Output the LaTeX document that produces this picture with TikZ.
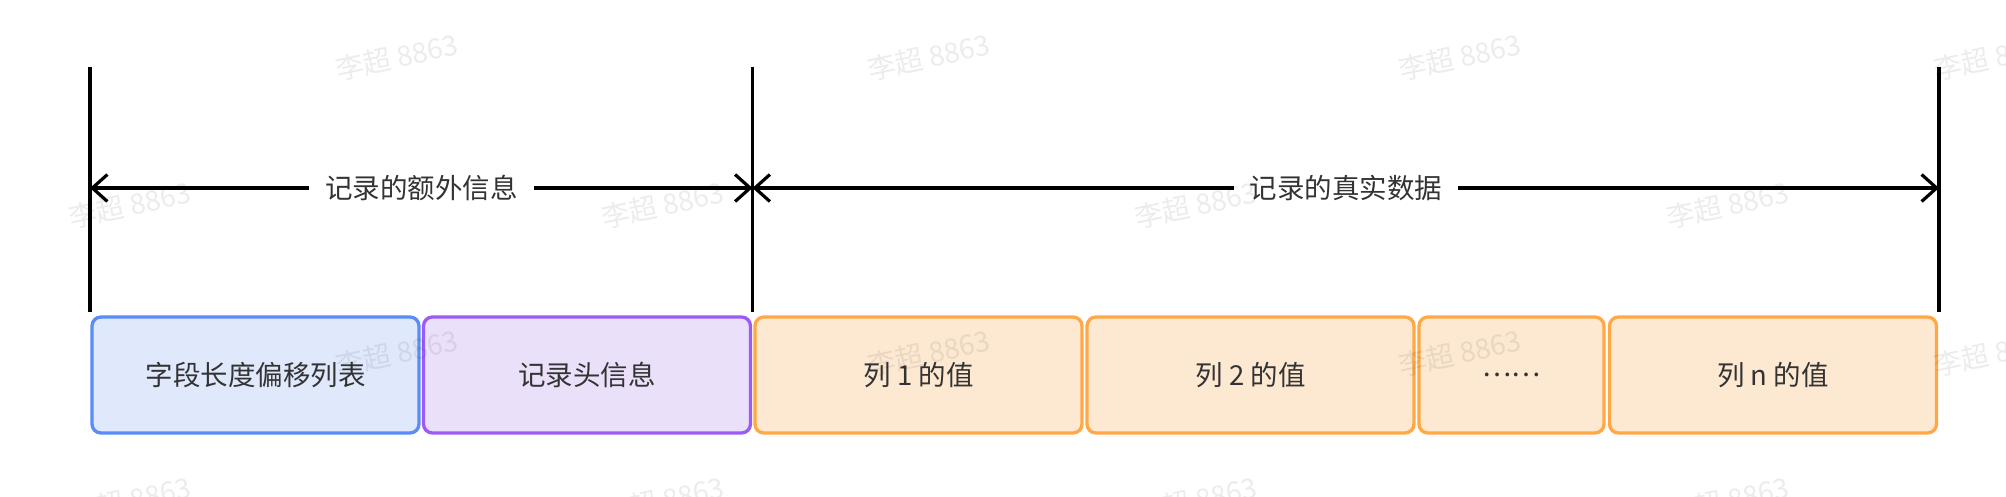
\documentclass[tikz,border=0pt]{standalone}
\usepackage{fontspec}
\setmainfont{Noto Sans CJK SC}
\usetikzlibrary{arrows.meta}
\definecolor{txt}{HTML}{333333}
\definecolor{bluebd}{HTML}{5A8CF8}
\definecolor{bluefl}{HTML}{E0E8FC}
\definecolor{purpbd}{HTML}{9B5CF5}
\definecolor{purpfl}{HTML}{EBE0FA}
\definecolor{orgbd}{HTML}{FFA845}
\definecolor{orgfl}{HTML}{FDE9D2}
\begin{document}
\begin{tikzpicture}[x=1pt,y=-1pt,
  fieldbox/.style={draw, line width=3.3pt, rounded corners=9pt, minimum height=116pt,
    inner sep=0pt, text=txt, font=\fontsize{27.5}{33}\selectfont},
  bluebox/.style={fieldbox, draw=bluebd, fill=bluefl},
  purpbox/.style={fieldbox, draw=purpbd, fill=purpfl},
  orgbox/.style={fieldbox, draw=orgbd, fill=orgfl},
  vline/.style={line width=3.4pt, draw=black},
  dimarrow/.style={line width=3.2pt, draw=black,
    {Straight Barb[length=15pt,width=27pt]}-{Straight Barb[length=15pt,width=27pt]}},
  dimlabel/.style={fill=white, inner xsep=16pt, inner ysep=4pt, text=txt,
    font=\fontsize{27.5}{33}\selectfont},
  wm/.style={rotate=12, text=black, text opacity=0.075, font=\fontsize{28}{30}\selectfont}
]
\useasboundingbox (0,0) rectangle (2006,496);
\fill[white] (0,0) rectangle (2006,496);

% boxes
\node[bluebox, minimum width=327pt] (f1) at (255.5,375) {字段长度偏移列表};
\node[purpbox, minimum width=327pt] (f2) at (587,375) {记录头信息};
\node[orgbox, minimum width=327pt] (c1) at (918.5,375) {列 1 的值};
\node[orgbox, minimum width=327pt] (c2) at (1250.5,375) {列 2 的值};
\node[orgbox, minimum width=185pt] (cd) at (1511.5,375) {……};
\node[orgbox, minimum width=327pt] (cn) at (1773,375) {列 n 的值};

% vertical boundary lines
\coordinate (t1) at (90,67);   \coordinate (b1) at (90,312);
\coordinate (t2) at (752.5,67); \coordinate (b2) at (752.5,312);
\coordinate (t3) at (1939,67); \coordinate (b3) at (1939,312);
\draw[vline] (t1) -- (b1);
\draw[vline] (t2) -- (b2);
\draw[vline] (t3) -- (b3);

% dimension arrows
\coordinate (a1) at (90,188);
\coordinate (a2) at (752.5,188);
\coordinate (a3) at (1939,188);
\draw[dimarrow] (a1) -- node[dimlabel] (l1) {记录的额外信息} (a2);
\draw[dimarrow] (a2) -- node[dimlabel] (l2) {记录的真实数据} (a3);

% watermark
\foreach \x [count=\i] in {397,929,1460,1995} {
  \node[wm] (wma\i) at (\x,57) {李超 8863};
  \node[wm] (wmc\i) at (\x,353) {李超 8863};
}
\foreach \x [count=\i] in {130,663,1196,1728} {
  \node[wm] (wmb\i) at (\x,205) {李超 8863};
  \node[wm] (wmd\i) at (\x,500) {李超 8863};
}
\end{tikzpicture}
\end{document}
